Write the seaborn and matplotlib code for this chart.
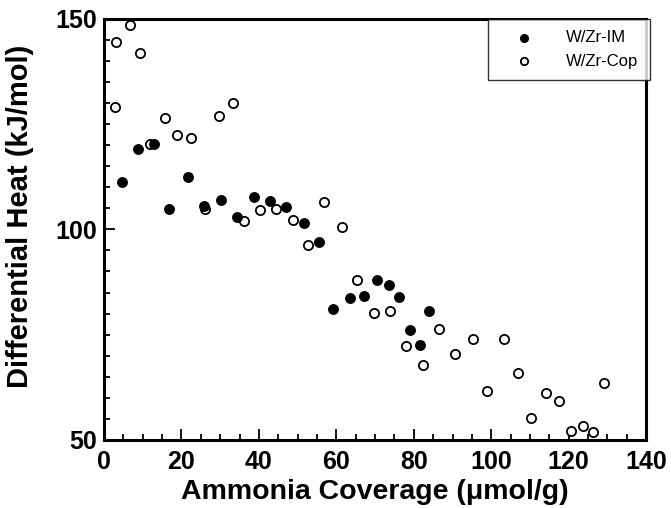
import matplotlib.pyplot as plt
import matplotlib.ticker as mticker
import numpy as np
import pandas as pd
import seaborn as sns

# W/Zr-IM (filled circles)
im_x = [4.6, 8.9, 12.9, 16.9, 21.6, 25.7, 30.3, 34.3, 38.7, 42.9, 47.0,
        51.6, 55.6, 59.2, 63.4, 67.2, 70.6, 73.6, 76.3, 79.1, 81.7, 84.0]
im_y = [111.3, 119.2, 120.3, 104.9, 112.5, 105.6, 107.0, 102.9, 107.7, 106.7, 105.3,
        101.5, 97.0, 81.0, 83.8, 84.2, 87.9, 86.8, 84.0, 76.1, 72.6, 80.6]

# W/Zr-Cop (open circles)
cop_x = [2.8, 3.0, 6.8, 9.4, 11.9, 15.8, 18.8, 22.5, 26.1, 29.8, 33.2, 36.2,
         40.3, 44.3, 48.9, 52.6, 56.8, 61.4, 65.3, 69.7, 73.9, 77.9, 82.3, 86.6,
         90.7, 95.2, 99.0, 103.4, 107.0, 110.3, 114.2, 117.6, 120.5, 123.6, 126.2, 129.0]
cop_y = [129.0, 144.4, 148.5, 141.8, 120.3, 126.5, 122.3, 121.7, 104.8, 126.8, 129.9, 102.1,
         104.6, 104.9, 102.2, 96.3, 106.5, 100.5, 88.0, 80.2, 80.6, 72.3, 67.7, 76.4,
         70.5, 74.0, 61.5, 74.0, 66.0, 55.2, 61.2, 59.2, 52.1, 53.2, 51.8, 63.6]

df = pd.concat([
    pd.DataFrame({'coverage': im_x, 'heat': im_y, 'sample': 'W/Zr-IM'}),
    pd.DataFrame({'coverage': cop_x, 'heat': cop_y, 'sample': 'W/Zr-Cop'}),
])

sns.set_style('ticks')
plt.rcParams['font.family'] = ['Liberation Sans', 'DejaVu Sans']
plt.rcParams['text.color'] = 'black'
plt.rcParams['axes.labelcolor'] = 'black'
plt.rcParams['xtick.color'] = 'black'
plt.rcParams['ytick.color'] = 'black'

fig = plt.figure(figsize=(6.71, 5.08), dpi=100)
ax = fig.add_axes([0.155, 0.134, 0.808, 0.829])

#filled series
sns.scatterplot(data=df[df['sample'] == 'W/Zr-IM'], x='coverage', y='heat', ax=ax,
                color='black', edgecolor='black', s=44, linewidth=1.2,
                label='W/Zr-IM', zorder=3)
#open series
sns.scatterplot(data=df[df['sample'] == 'W/Zr-Cop'], x='coverage', y='heat', ax=ax,
                facecolor='white', edgecolor='black', s=44, linewidth=1.3,
                label='W/Zr-Cop', zorder=2)

ax.set_xlim(0, 140)
ax.set_ylim(50, 150)
ax.xaxis.set_major_locator(mticker.MultipleLocator(20))
ax.xaxis.set_minor_locator(mticker.MultipleLocator(5))
ax.yaxis.set_major_locator(mticker.FixedLocator([50, 100, 150]))
ax.yaxis.set_minor_locator(mticker.MultipleLocator(5))
ax.tick_params(which='both', direction='in', color='black', labelcolor='black', width=1.3)
ax.tick_params(which='major', length=8, labelsize=18)
ax.tick_params(axis='x', which='major', pad=7)
ax.tick_params(axis='y', which='major', pad=5)
ax.tick_params(which='minor', length=4)
for lab in ax.get_xticklabels() + ax.get_yticklabels():
    lab.set_fontweight('bold')
for sp in ax.spines.values():
    sp.set_linewidth(2.2)
    sp.set_color('black')

ax.set_xlabel('Ammonia Coverage (\u03bcmol/g)', fontsize=20.5, fontweight='bold', color='black')
ax.set_ylabel('Differential Heat (kJ/mol)', fontsize=21, fontweight='bold', color='black')
ax.xaxis.set_label_coords(0.5, -0.093)
ax.yaxis.set_label_coords(-0.13, 0.53)

leg = ax.legend(loc='upper right', bbox_to_anchor=(1.007, 1.0), borderaxespad=0,
                fancybox=False, frameon=True, edgecolor='black', fontsize=12,
                markerscale=0.8, handletextpad=1.0, borderpad=0.7, labelspacing=0.5,
                handlelength=3.0)
leg.get_frame().set_linewidth(1.0)

fig.savefig('out.png', dpi=100)
